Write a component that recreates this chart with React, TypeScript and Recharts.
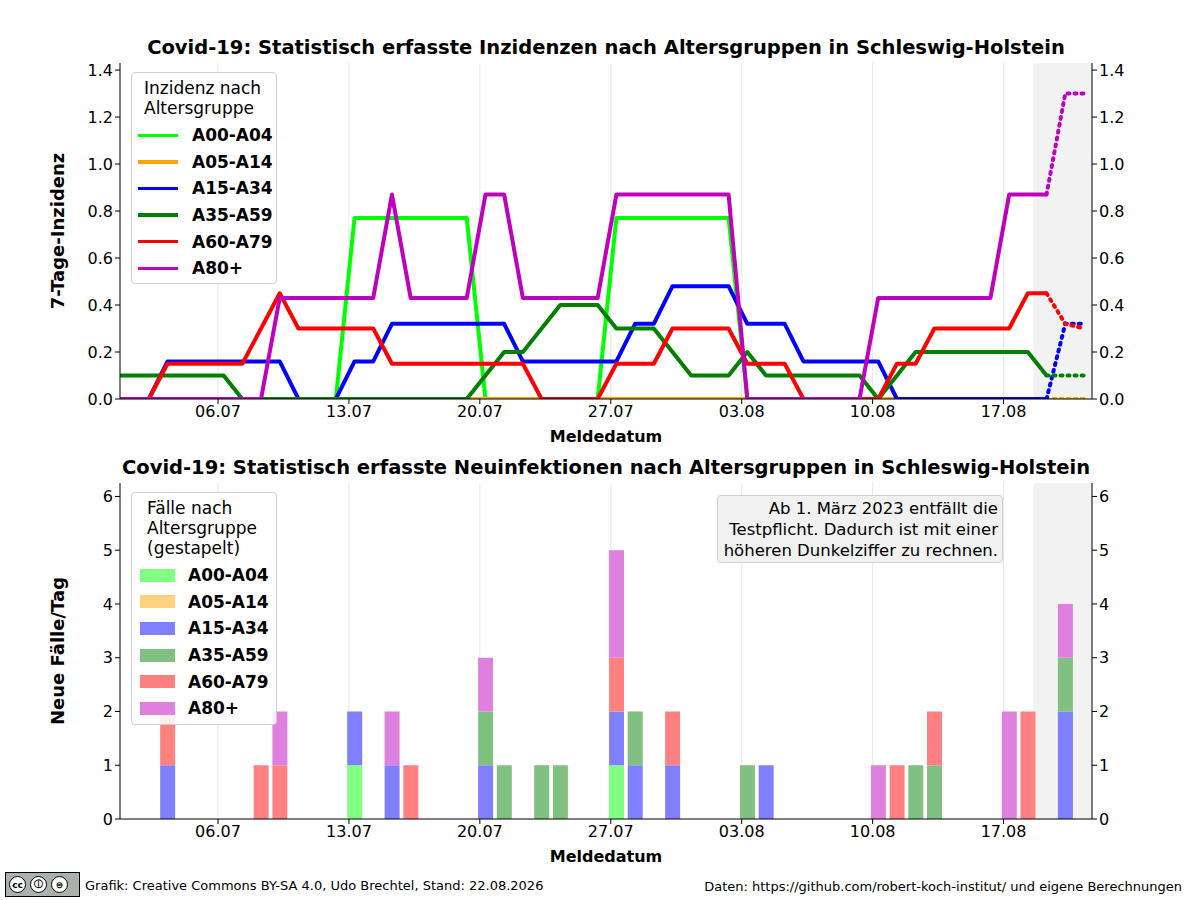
import React from 'react'
import {
  ComposedChart, Line, Bar, XAxis, YAxis, CartesianGrid, ReferenceArea,
} from 'recharts'

// ── Data ─────────────────────────────────────────────────────────────────────
// day index 0 = 01.07, 51 = 21.08
const GROUPS = ['A00-A04', 'A05-A14', 'A15-A34', 'A35-A59', 'A60-A79', 'A80+']
const LINE_COLORS = ['#00ff00', '#ffa500', '#0000ff', '#008000', '#ff0000', '#bf00bf']
const BAR_COLORS = ['#80ff80', '#ffd280', '#8080ff', '#80c080', '#ff8080', '#df80df']
const TICK_DAYS = [5, 12, 19, 26, 33, 40, 47]
const TICK_LABELS = ['06.07', '13.07', '20.07', '27.07', '03.08', '10.08', '17.08']

const rep = (v: number, n: number) => Array(n).fill(v)
const INC_A00 = [...rep(0, 12), ...rep(0.77, 7), ...rep(0, 7), ...rep(0.77, 7), ...rep(0, 19)]
const INC_A05 = rep(0, 52)
const INC_A15 = [...rep(0, 2), ...rep(0.16, 7), ...rep(0, 3), ...rep(0.16, 2), ...rep(0.32, 7), ...rep(0.16, 6),
  ...rep(0.32, 2), ...rep(0.48, 4), ...rep(0.32, 3), ...rep(0.16, 5), ...rep(0, 9), ...rep(0.32, 2)]
const INC_A35 = [...rep(0.1, 6), ...rep(0, 13), 0.1, 0.2, 0.2, 0.3, 0.4, 0.4, 0.4, 0.3, 0.3, 0.3, 0.2,
  0.1, 0.1, 0.1, 0.2, ...rep(0.1, 6), 0, 0.1, ...rep(0.2, 7), ...rep(0.1, 3)]
const INC_A60 = [0, 0, ...rep(0.15, 5), 0.3, 0.45, ...rep(0.3, 5), ...rep(0.15, 8), ...rep(0, 4), ...rep(0.15, 3),
  ...rep(0.3, 4), ...rep(0.15, 3), ...rep(0, 5), 0.15, 0.15, ...rep(0.3, 5), 0.45, 0.45, 0.32, 0.3]
const INC_A80 = [...rep(0, 8), ...rep(0.43, 6), 0.87, ...rep(0.43, 4), 0.87, 0.87, ...rep(0.43, 5), ...rep(0.87, 7),
  ...rep(0, 7), ...rep(0.43, 7), 0.87, 0.87, 0.87, 1.3, 1.3]
const INC = [INC_A00, INC_A05, INC_A15, INC_A35, INC_A60, INC_A80]

const CASE_DAYS = [2, 7, 8, 12, 14, 15, 19, 20, 22, 23, 26, 27, 29, 33, 34, 40, 41, 42, 43, 47, 48, 50]
const CASE_A00 = [0, 0, 0, 1, 0, 0, 0, 0, 0, 0, 1, 0, 0, 0, 0, 0, 0, 0, 0, 0, 0, 0]
const CASE_A05 = [0, 0, 0, 0, 0, 0, 0, 0, 0, 0, 0, 0, 0, 0, 0, 0, 0, 0, 0, 0, 0, 0]
const CASE_A15 = [1, 0, 0, 1, 1, 0, 1, 0, 0, 0, 1, 1, 1, 0, 1, 0, 0, 0, 0, 0, 0, 2]
const CASE_A35 = [0, 0, 0, 0, 0, 0, 1, 1, 1, 1, 0, 1, 0, 1, 0, 0, 0, 1, 1, 0, 0, 1]
const CASE_A60 = [1, 1, 1, 0, 0, 1, 0, 0, 0, 0, 1, 0, 1, 0, 0, 0, 1, 0, 1, 0, 2, 0]
const CASE_A80 = [0, 0, 1, 0, 1, 0, 1, 0, 0, 0, 2, 0, 0, 0, 0, 1, 0, 0, 0, 2, 0, 1]
const CASES = [CASE_A00, CASE_A05, CASE_A15, CASE_A35, CASE_A60, CASE_A80]

const OFF = 0.3 // points sit slightly right of date ticks
const DOMAIN: [number, number] = [-0.24, 51.73]

const incRows = Array.from({ length: 53 }, (_, k) => {
  const j = Math.max(k - 1, 0)
  const row: Record<string, number | null> = { x: k - 1 + OFF }
  GROUPS.forEach((g, i) => {
    row[g] = j <= 49 ? INC[i][j] : null
    row[g + 'd'] = j >= 49 && k > 0 ? INC[i][j] : null
  })
  return row
})
const caseRows = CASE_DAYS.map((d, k) => {
  const row: Record<string, number> = { x: d + OFF }
  GROUPS.forEach((g, i) => { row[g] = CASES[i][k] })
  return row
})

// ── Styles ───────────────────────────────────────────────────────────────────
const FONT = 'DejaVu Sans, sans-serif'
const TICK = { fontSize: 16, fill: '#000', fontFamily: FONT }
const MARGIN = { top: 63, right: 48, bottom: 0, left: 60 }
const fmtDay = (v: number) => TICK_LABELS[TICK_DAYS.indexOf(v)] ?? ''

const abs = (s: React.CSSProperties): React.CSSProperties => ({ position: 'absolute', fontFamily: FONT, ...s })

function Axes({ yTicks, yDomain, fmt, label }: { yTicks: number[]; yDomain: [number, number]; fmt: (v: number) => string; label: string }) {
  return [
    <CartesianGrid key="g" stroke="#e8e8e8" verticalValues={TICK_DAYS} horizontalValues={yTicks} />,
    <XAxis key="x" dataKey="x" type="number" domain={DOMAIN} allowDataOverflow ticks={TICK_DAYS}
      tickFormatter={fmtDay} tick={TICK} stroke="#000" tickSize={5} height={51}
      label={{ value: 'Meldedatum', position: 'insideBottom', offset: 8, fontSize: 16, fontWeight: 700, fill: '#000', fontFamily: FONT }} />,
    <XAxis key="xt" xAxisId="top" orientation="top" dataKey="x" type="number" domain={DOMAIN} allowDataOverflow tick={false} tickLine={false} stroke="#000" height={0} />,
    <YAxis key="yl" yAxisId="l" domain={yDomain} ticks={yTicks} tickFormatter={fmt} tick={TICK} stroke="#000" tickSize={5} width={60}
      allowDataOverflow label={{ value: label, angle: -90, position: 'insideLeft', offset: -2, fontSize: 18, fontWeight: 700, fill: '#000', fontFamily: FONT, style: { textAnchor: 'middle' } }} />,
    <YAxis key="yr" yAxisId="r" orientation="right" domain={yDomain} ticks={yTicks} tickFormatter={fmt} tick={TICK} stroke="#000" tickSize={5} width={60} allowDataOverflow />,
  ]
}

function LegendBox({ top, height, title, kind }: { top: number; height: number; title: string[]; kind: 'line' | 'patch' }) {
  return (
    <div style={abs({ left: 131, top, width: 146, height, border: '1px solid #d0d0d0', borderRadius: 4, background: 'rgba(255,255,255,0.85)', boxSizing: 'border-box' })}>
      <div style={{ fontSize: 17, lineHeight: '20px', padding: kind === 'line' ? '5px 0 0 12px' : '5px 0 0 15px' }}>
        {title.map(t => <div key={t}>{t}</div>)}
      </div>
      <div style={{ paddingTop: 4 }}>
        {GROUPS.map((g, i) => (
          <div key={g} style={{ display: 'flex', alignItems: 'center', height: 26.6, paddingLeft: 6 }}>
            {kind === 'line'
              ? <div style={{ width: 40, height: 3.5, background: LINE_COLORS[i], marginRight: 14 }} />
              : <div style={{ width: 35, height: 13, background: BAR_COLORS[i], margin: '0 13px 0 2px' }} />}
            <span style={{ fontSize: 17, fontWeight: 700 }}>{g}</span>
          </div>
        ))}
      </div>
    </div>
  )
}

export default function App() {
  const incTicks = [0, 0.2, 0.4, 0.6, 0.8, 1.0, 1.2, 1.4]
  const caseTicks = [0, 1, 2, 3, 4, 5, 6]
  return (
    <div style={{ position: 'absolute', left: 0, top: 0, width: 1200, height: 900, background: '#fff', fontFamily: FONT }}>
      <div style={abs({ left: 0, top: 0 })}>
        <ComposedChart width={1200} height={450} data={incRows} margin={MARGIN}>
          <ReferenceArea x1={48.6} x2={51.73} yAxisId="l" fill="#f2f2f2" fillOpacity={1} stroke="none" />
          {Axes({ yTicks: incTicks, yDomain: [0, 1.43], fmt: v => v.toFixed(1), label: '7-Tage-Inzidenz' })}
          {GROUPS.map((g, i) => (
            <Line key={g} yAxisId="l" dataKey={g} stroke={LINE_COLORS[i]} strokeWidth={4} dot={false}
              isAnimationActive={false} connectNulls={false} strokeLinejoin="round" />
          ))}
          {GROUPS.map((g, i) => (
            <Line key={g + 'd'} yAxisId="l" dataKey={g + 'd'} stroke={LINE_COLORS[i]} strokeWidth={4} dot={false}
              strokeDasharray="2 5" strokeLinecap="round" isAnimationActive={false} />
          ))}
        </ComposedChart>
      </div>
      <div style={abs({ left: 0, top: 420 })}>
        <ComposedChart width={1200} height={450} data={caseRows} margin={MARGIN}>
          <ReferenceArea x1={48.6} x2={51.73} yAxisId="l" fill="#f2f2f2" fillOpacity={1} stroke="none" />
          {Axes({ yTicks: caseTicks, yDomain: [0, 6.25], fmt: v => String(v), label: 'Neue Fälle/Tag' })}
          {GROUPS.map((g, i) => (
            <Bar key={g} yAxisId="l" dataKey={g} stackId="a" fill={BAR_COLORS[i]} barSize={15} isAnimationActive={false} />
          ))}
        </ComposedChart>
      </div>

      <div style={abs({ left: 0, width: 1212, top: 36, textAlign: 'center', fontSize: 19.5, fontWeight: 700 })}>
        Covid-19: Statistisch erfasste Inzidenzen nach Altersgruppen in Schleswig-Holstein
      </div>
      <div style={abs({ left: 0, width: 1212, top: 456, textAlign: 'center', fontSize: 19.5, fontWeight: 700 })}>
        Covid-19: Statistisch erfasste Neuinfektionen nach Altersgruppen in Schleswig-Holstein
      </div>

      <LegendBox top={72} height={212} title={['Inzidenz nach', 'Altersgruppe']} kind="line" />
      <LegendBox top={492} height={233} title={['Fälle nach', 'Altersgruppe', '(gestapelt)']} kind="patch" />

      <div style={abs({ left: 717, top: 495, width: 286, height: 68, boxSizing: 'border-box', background: 'rgba(240,240,240,0.9)', border: '1px solid #d0d0d0', borderRadius: 4, textAlign: 'right', fontSize: 16.5, lineHeight: '21px', padding: '2px 4px 0 0', whiteSpace: 'nowrap' })}>
        <div>Ab 1. März 2023 entfällt die</div>
        <div>Testpflicht. Dadurch ist mit einer</div>
        <div>höheren Dunkelziffer zu rechnen.</div>
      </div>

      <div style={abs({ left: 5, top: 872, width: 75, height: 25, background: '#aab2ab', border: '1px solid #000', boxSizing: 'border-box', display: 'flex', alignItems: 'center', gap: 4, paddingLeft: 3 })}>
        {['cc', '\u24d8', '\u229c'].map(s => (
          <div key={s} style={{ width: 17, height: 17, borderRadius: 9, background: '#fff', border: '1.5px solid #000', fontSize: 9, fontWeight: 700, display: 'flex', alignItems: 'center', justifyContent: 'center', boxSizing: 'border-box' }}>{s}</div>
        ))}
      </div>
      <div style={abs({ left: 85, top: 878, fontSize: 13 })}>
        Grafik: Creative Commons BY-SA 4.0, Udo Brechtel, Stand: 22.08.2026
      </div>
      <div style={abs({ right: 18, top: 879, fontSize: 13 })}>
        Daten: https://github.com/robert-koch-institut/ und eigene Berechnungen
      </div>
    </div>
  )
}
